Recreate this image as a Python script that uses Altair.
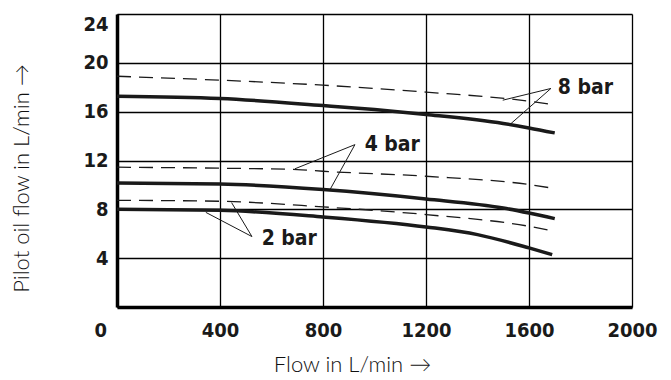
import altair as alt
import pandas as pd

# ---- data ----
x_8_dash = [0, 400, 800, 1200, 1600, 1700]
y_8_dash = [18.9, 18.58, 18.17, 17.6, 16.86, 16.56]
x_8_solid = [0, 400, 800, 1000, 1200, 1500, 1600, 1700]
y_8_solid = [17.27, 17.08, 16.5, 16.17, 15.77, 15.03, 14.67, 14.26]
x_4_dash = [0, 400, 700, 800, 1200, 1600, 1700]
y_4_dash = [11.45, 11.37, 11.26, 11.12, 10.71, 10.03, 9.7]
x_4_solid = [0, 400, 800, 1200, 1500, 1600, 1700]
y_4_solid = [10.16, 10.08, 9.62, 8.85, 8.11, 7.7, 7.24]
x_2_dash = [0, 400, 800, 1200, 1600, 1700]
y_2_dash = [8.74, 8.66, 8.2, 7.57, 6.61, 6.2]
x_2_solid = [0, 400, 800, 1200, 1400, 1600, 1690]
y_2_solid = [8.0, 7.92, 7.38, 6.56, 5.93, 4.84, 4.29]

label_text = ["8 bar", "4 bar", "2 bar"]
label_x = [1700, 950, 550]
label_y = [17.95, 13.3, 5.55]
apex_x = [1685, 924, 524]
apex_y = [17.9, 13.3, 5.77]
target_dash_x = [1498, 691, 445]
target_dash_y = [16.94, 11.32, 8.55]
target_solid_x = [1526, 826, 345]
target_solid_y = [14.95, 9.57, 7.75]

x_ticks = [0, 400, 800, 1200, 1600, 2000]
y_ticks = [0, 4, 8, 12, 16, 20, 24]

BOLD_FONT = "DejaVu Sans Condensed, Liberation Sans, sans-serif"
TITLE_FONT = "Lato, Liberation Sans, sans-serif"

# ---- build tables ----
rows = []
for name, xs, ys, style in [
    ("8 dash", x_8_dash, y_8_dash, "dash"),
    ("8 solid", x_8_solid, y_8_solid, "solid"),
    ("4 dash", x_4_dash, y_4_dash, "dash"),
    ("4 solid", x_4_solid, y_4_solid, "solid"),
    ("2 dash", x_2_dash, y_2_dash, "dash"),
    ("2 solid", x_2_solid, y_2_solid, "solid"),
]:
    for i, (a, b) in enumerate(zip(xs, ys)):
        rows.append({"series": name, "style": style, "x": a, "y": b, "order": i})
curves = pd.DataFrame(rows)

seg = []
for i in range(len(label_text)):
    seg.append({"x": apex_x[i], "y": apex_y[i], "x2": target_dash_x[i], "y2": target_dash_y[i]})
    seg.append({"x": apex_x[i], "y": apex_y[i], "x2": target_solid_x[i], "y2": target_solid_y[i]})
segments = pd.DataFrame(seg)

labels = pd.DataFrame({"text": label_text, "x": label_x, "y": label_y})
zero = pd.DataFrame({"x": [0], "y": [0], "text": ["0"]})

xscale = alt.Scale(domain=[0, 2000], nice=False, zero=False)
yscale = alt.Scale(domain=[0, 24], nice=False, zero=False)

xaxis = alt.Axis(
    values=x_ticks, format="d", grid=True, gridColor="black", gridWidth=1.3, gridOpacity=1,
    domain=True, domainColor="black", domainWidth=3.5, ticks=False,
    labelExpr="datum.value == 0 ? '' : datum.label",
    labelFont=BOLD_FONT, labelFontWeight="bold", labelFontSize=20, labelColor="#1a1a1a",
    labelPadding=13, labelFlush=False,
    title="Flow in L/min \u2192", titleFont=TITLE_FONT, titleFontWeight=300,
    titleFontSize=22, titleColor="#111", titleX=235, titleY=64, titleAlign="center",
    titleBaseline="alphabetic",
)
yaxis = alt.Axis(
    values=y_ticks, format="d", grid=True, gridColor="black", gridWidth=1.3, gridOpacity=1,
    domain=True, domainColor="black", domainWidth=3.5, ticks=False,
    labelExpr="datum.value == 0 ? '' : datum.label",
    labelFont=BOLD_FONT, labelFontWeight="bold", labelFontSize=20, labelColor="#1a1a1a",
    labelPadding=9, labelFlush=True,
    title="Pilot oil flow in L/min \u2192", titleFont=TITLE_FONT, titleFontWeight=300,
    titleFontSize=22, titleColor="#111", titleX=-96, titleY=164, titleAlign="center",
    titleBaseline="middle", titleAngle=270,
)

base = alt.Chart(curves)

solid = base.transform_filter(alt.datum.style == "solid").mark_line(
    color="#1a1a1a", strokeWidth=3.5, interpolate="monotone", strokeCap="butt"
).encode(
    x=alt.X("x:Q", scale=xscale, axis=xaxis),
    y=alt.Y("y:Q", scale=yscale, axis=yaxis),
    detail="series:N",
    order="order:Q",
)

dashed = base.transform_filter(alt.datum.style == "dash").mark_line(
    color="#1a1a1a", strokeWidth=1.3, strokeDash=[14, 8], interpolate="monotone"
).encode(
    x=alt.X("x:Q", scale=xscale),
    y=alt.Y("y:Q", scale=yscale),
    detail="series:N",
    order="order:Q",
)

leaders = alt.Chart(segments).mark_rule(color="#1a1a1a", strokeWidth=1).encode(
    x=alt.X("x:Q", scale=xscale),
    y=alt.Y("y:Q", scale=yscale),
    x2="x2:Q",
    y2="y2:Q",
)

texts = alt.Chart(labels).mark_text(
    align="left", baseline="middle", dx=3, font=BOLD_FONT, fontWeight="bold",
    fontSize=21, color="#1a1a1a"
).encode(
    x=alt.X("x:Q", scale=xscale),
    y=alt.Y("y:Q", scale=yscale),
    text="text:N",
)

zero_label = alt.Chart(zero).mark_text(
    align="right", baseline="middle", dx=-10, dy=24, font=BOLD_FONT,
    fontWeight="bold", fontSize=20, color="#1a1a1a"
).encode(
    x=alt.X("x:Q", scale=xscale),
    y=alt.Y("y:Q", scale=yscale),
    text="text:N",
)

chart = alt.layer(dashed, solid, leaders, texts, zero_label).properties(
    width=515, height=293,
    autosize=alt.AutoSizeParams(type="none"),
    padding={"left": 109, "top": 6, "right": 30, "bottom": 70},
    background="white",
).configure_view(stroke=None)

chart.save("out.html", embed_options={"renderer": "svg", "actions": False})
